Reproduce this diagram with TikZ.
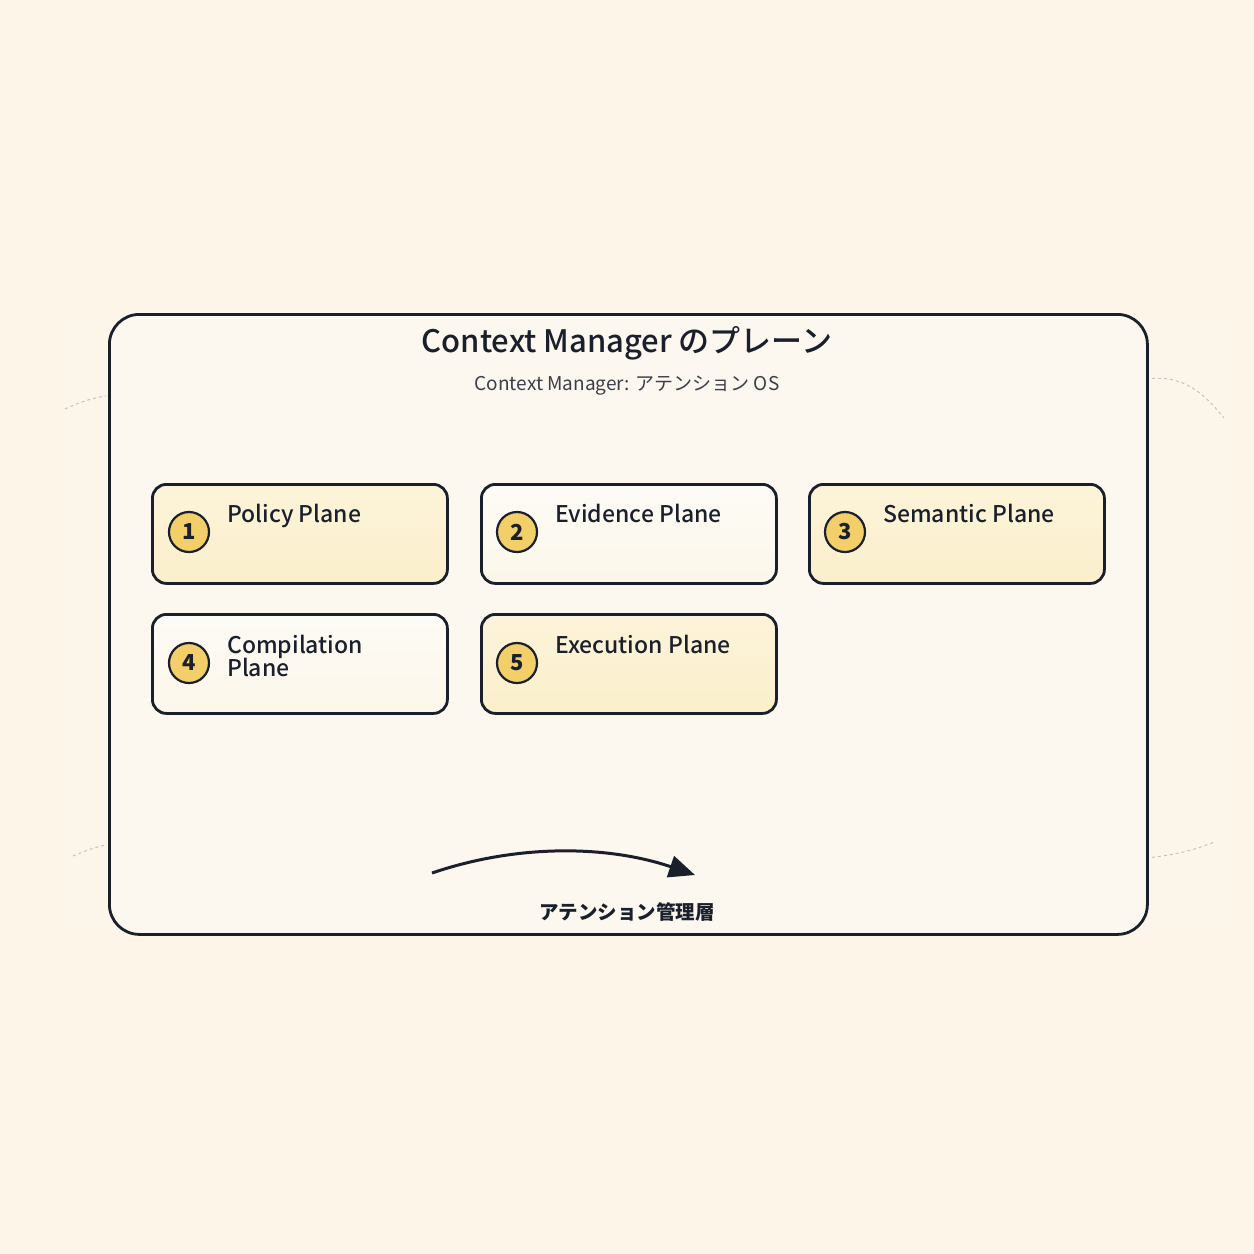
\documentclass[tikz,border=0pt]{standalone}
\usepackage{fontspec}
\setmainfont{Noto Sans CJK JP}[BoldFont={* Medium}]
\newfontfamily\heavyfont{Noto Sans CJK JP}
\usetikzlibrary{arrows.meta}
\definecolor{bg}{HTML}{FCF5E8}
\definecolor{band}{HTML}{FBF5EA}
\definecolor{panel}{HTML}{FCF8EF}
\definecolor{ink}{HTML}{1A1F2C}
\definecolor{sub}{HTML}{3A3F4A}
\definecolor{yelA}{HTML}{FCF4DA}
\definecolor{yelB}{HTML}{FBEFCB}
\definecolor{whtA}{HTML}{FDFBF6}
\definecolor{whtB}{HTML}{FCF7EA}
\definecolor{badge}{HTML}{F2CF68}
\begin{document}
\begin{tikzpicture}[x=1pt,y=-1pt,
  plane/.style={draw=ink, line width=2.8pt, rounded corners=14pt,
    minimum width=295pt, minimum height=99pt, anchor=north west, inner sep=0pt},
  yelplane/.style={plane, top color=yelA, bottom color=yelB},
  whtplane/.style={plane, top color=whtA, bottom color=whtB},
  badgenode/.style={circle, draw=ink, line width=2.2pt, fill=badge,
    minimum size=40pt, inner sep=0pt, font=\fontsize{22}{22}\selectfont\heavyfont\bfseries, text=ink},
  lbl/.style={anchor=base west, inner sep=0pt, align=left, text=ink,
    font=\fontsize{23}{23}\selectfont\bfseries},
  faint/.style={draw=black!25, dashed, line width=0.9pt}
]
\fill[bg] (0,0) rectangle (1254,1254);
\useasboundingbox (0,0) rectangle (1254,1254);
\fill[band] (65,313) rectangle (1228,933);
% faint dashed curves
\draw[faint] (65,409) .. controls (80,402) and (92,398) .. (106,396);
\draw[faint] (73,856) .. controls (85,851) and (95,847) .. (106,845);
\draw[faint] (1146,379) .. controls (1185,374) and (1205,395) .. (1224,418);
\draw[faint] (1146,858) .. controls (1175,855) and (1195,850) .. (1214,842);
% main panel
\node[draw=ink, line width=2.8pt, fill=panel, rounded corners=30pt, anchor=north west,
  minimum width=1038pt, minimum height=620pt, inner sep=0pt] (panel) at (108,313) {};
\node[anchor=base, inner sep=0pt, text=ink, font=\fontsize{31}{31}\selectfont\bfseries]
  (title) at (627,352) {Context Manager のプレーン};
\node[anchor=base, inner sep=0pt, text=sub, font=\fontsize{19}{19}\selectfont]
  (subtitle) at (627,390) {Context Manager: アテンション OS};
% planes
\node[yelplane] (p1) at (151,483) {};
\node[whtplane] (p2) at (480,483) {};
\node[yelplane] (p3) at (808,483) {};
\node[whtplane] (p4) at (151,613) {};
\node[yelplane] (p5) at (480,613) {};
\node[badgenode] (b1) at (189,532) {1};
\node[badgenode] (b2) at (517,532) {2};
\node[badgenode] (b3) at (845,532) {3};
\node[badgenode] (b4) at (189,663) {4};
\node[badgenode] (b5) at (517,663) {5};
\node[lbl] (l1) at (227,522) {Policy Plane};
\node[lbl] (l2) at (555,522) {Evidence Plane};
\node[lbl] (l3) at (883,522) {Semantic Plane};
\node[lbl] (l4) at (227,676) {Compilation\\[-2pt]Plane};
\node[lbl] (l5) at (555,653) {Execution Plane};
% arrow
\coordinate (a1) at (432,873);
\coordinate (a2) at (695,875);
\draw[ink, line width=3pt, -{Triangle[length=26pt,width=22pt]}]
  (a1) .. controls (520,843) and (610,846) .. (a2);
\node[anchor=base, inner sep=0pt, text=ink, font=\fontsize{19.5}{19.5}\selectfont\heavyfont\bfseries]
  (cap) at (627,919) {アテンション管理層};
\end{tikzpicture}
\end{document}
